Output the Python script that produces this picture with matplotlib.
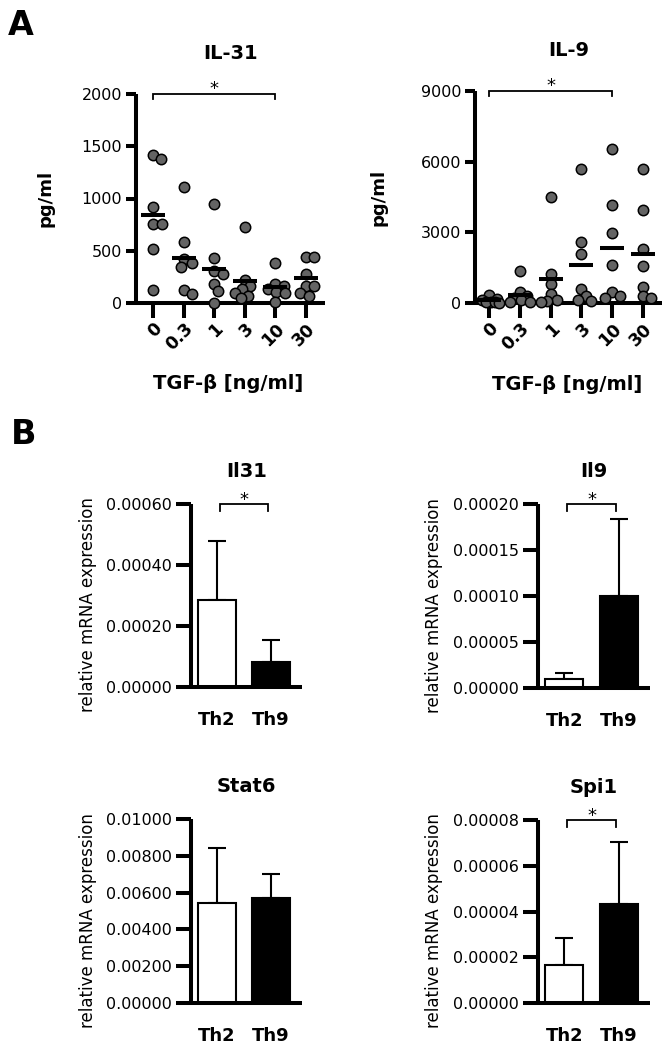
import matplotlib

matplotlib.use("Agg")
import matplotlib.pyplot as plt
import numpy as np
from matplotlib.ticker import FormatStrFormatter

plt.rcParams["font.family"] = "DejaVu Sans"

# ---- panel A: cytokine secretion vs TGF-beta dose ----
tgf_doses = ["0", "0.3", "1", "3", "10", "30"]
il31_pg = [
    [1378, 1420, 915, 760, 760, 517, 128],
    [1107, 587, 420, 383, 341, 121, 83],
    [951, 431, 303, 281, 185, 112, 0],
    [727, 223, 160, 130, 96, 70, 48],
    [383, 185, 166, 134, 102, 96, 6],
    [440, 440, 281, 160, 160, 96, 70],
]
il9_pg = [
    [320, 180, 120, 60, 40, 30, 20],
    [1340, 460, 280, 200, 120, 60, 30],
    [4512, 1241, 818, 395, 141, 70, 42],
    [5682, 2580, 2073, 592, 282, 113, 70],
    [6557, 4160, 2989, 1622, 451, 282, 211],
    [5668, 3948, 2284, 1579, 677, 310, 197],
]

# ---- panel B: qPCR, mean + SD ----
cells = ["Th2", "Th9"]
il31_mrna = [0.000284, 0.0000810]
il31_sd = [0.000196, 0.000074]
il9_mrna = [0.0000101, 0.0000995]
il9_sd = [0.0000062, 0.0000840]
stat6_mrna = [0.00546, 0.00573]
stat6_sd = [0.00297, 0.00128]
spi1_mrna = [0.0000165, 0.0000431]
spi1_sd = [0.0000117, 0.0000271]

GREY = "#646464"
SPW = 2.9  # spine / tick width (pt)

W, H = 670, 1050
fig = plt.figure(figsize=(W / 100, H / 100), dpi=100)


def rect(x0, x1, ytop, ybot):
    return [x0 / W, 1 - ybot / H, (x1 - x0) / W, (ybot - ytop) / H]


def style_axes(ax):
    for s in ("top", "right"):
        ax.spines[s].set_visible(False)
    for s in ("left", "bottom"):
        ax.spines[s].set_linewidth(SPW)
        ax.spines[s].set_capstyle("butt")


def swarm_x(ax, x0, vals, diam, maxoff):
    # simple beeswarm: nearest free horizontal slot in pixel space, capped spread
    tr = ax.transData
    placed, xs = [], []
    for v in vals:
        px0, py = tr.transform((x0, v))
        best, bestgap = px0, -1e9
        for k in range(int(maxoff * 2) + 1):
            found = False
            for sgn in ((1,) if k == 0 else (1, -1)):
                cand = px0 + sgn * k * 0.5
                gap = min([((cand - qx) ** 2 + (py - qy) ** 2) ** 0.5 for qx, qy in placed]
                          or [1e9])
                if gap >= diam:
                    best, found = cand, True
                    break
                if gap > bestgap:
                    best, bestgap = cand, gap
            if found:
                break
        placed.append((best, py))
        xs.append(tr.inverted().transform((best, py))[0])
    return xs


def bracket(ax, x1, x2, y, drop_px, star_off):
    tr = ax.transData
    _, py = tr.transform((x1, y))
    ylow = tr.inverted().transform((0, py - drop_px))[1]
    ax.plot([x1, x1, x2, x2], [ylow, y, y, ylow], color="black", lw=1.3,
            clip_on=False, solid_joinstyle="miter")
    ax.annotate("*", xy=((x1 + x2) / 2, y), xytext=(0, star_off),
                textcoords="offset points", ha="center", va="baseline",
                fontsize=13, annotation_clip=False)


def dose_panel(r, data, title, ymax, yticks, xleft, title_pad, ylab_x):
    ax = fig.add_axes(r)
    style_axes(ax)
    x = np.arange(len(tgf_doses))
    ax.set_xlim(xleft, 5.63)
    ax.set_ylim(0, ymax)
    for i, vals in enumerate(data):
        vals = sorted(vals, reverse=True)
        xs = swarm_x(ax, x[i], vals, 8.5, 10)
        ax.scatter(xs, vals, s=56, color=GREY, edgecolor="black", linewidth=1.1,
                   zorder=3, clip_on=False)
        ax.hlines(np.mean(vals), x[i] - 0.39, x[i] + 0.39, color="black",
                  lw=2.9, zorder=4)
    ax.set_xticks(x)
    ax.set_xticklabels(tgf_doses, rotation=45, ha="right", va="top",
                       rotation_mode="anchor", fontsize=12.5, fontweight="bold")
    ax.set_yticks(yticks)
    ax.tick_params(axis="x", length=11, width=SPW, pad=1)
    ax.tick_params(axis="y", length=7, width=SPW, pad=3, labelsize=11.5)
    ax.set_title(title, fontsize=14, fontweight="bold", pad=25)
    ax.set_ylabel("pg/ml", fontsize=13, fontweight="bold")
    ax.yaxis.set_label_coords(ylab_x, 0.5)
    ax.set_xlabel("TGF-\u03b2 [ng/ml]", fontsize=14, fontweight="bold")
    ax.xaxis.set_label_coords(0.49, -0.34)
    bracket(ax, 0, 4, ymax, 5, 0)
    return ax


dose_panel(rect(136, 325, 94, 303), il31_pg, "IL-31", 2000,
           [0, 500, 1000, 1500, 2000], -0.56, 26, -0.43)
dose_panel(rect(475, 662, 91, 303), il9_pg, "IL-9", 9000,
           [0, 3000, 6000, 9000], -0.46, 24, -0.47)


def bar_panel(r, means, sds, title, ymax, step, sig):
    ax = fig.add_axes(r)
    style_axes(ax)
    x = np.arange(len(cells))
    ax.set_xlim(-0.48, 1.57)
    ax.set_ylim(0, ymax)
    ax.bar(x, means, width=0.69, color=["white", "black"], edgecolor="black",
           linewidth=1.5, zorder=2)
    ax.errorbar(x, means, yerr=[[0] * len(sds), sds], fmt="none", ecolor="black",
                elinewidth=1.5, capsize=6.5, capthick=1.5, zorder=1)
    ax.set_xticks(x)
    ax.set_xticklabels(cells, fontsize=13, fontweight="bold")
    ax.set_yticks(np.arange(0, ymax + step / 2, step))
    ax.yaxis.set_major_formatter(FormatStrFormatter("%.5f"))
    ax.tick_params(axis="x", length=0, pad=17)
    ax.tick_params(axis="y", length=11, width=SPW, pad=3, labelsize=11.5)
    ax.set_title(title, fontsize=14, fontweight="bold", pad=19.5)
    ax.set_ylabel("relative mRNA expression", fontsize=12)
    ax.yaxis.set_label_coords(-0.85, 0.45)
    if sig:
        bracket(ax, 0.05, 0.95, ymax, 7, -1)
    return ax


bar_panel(rect(191, 302, 504, 687), il31_mrna, il31_sd, "Il31", 0.0006, 0.0002, True)
bar_panel(rect(538, 650, 504, 688), il9_mrna, il9_sd, "Il9", 0.0002, 0.00005, True)
bar_panel(rect(191, 302, 819, 1003), stat6_mrna, stat6_sd, "Stat6", 0.01, 0.002, False)
bar_panel(rect(538, 650, 820, 1003), spi1_mrna, spi1_sd, "Spi1", 0.00008, 0.00002, True)

fig.text(8 / W, 1 - 35 / H, "A", fontsize=24, fontweight="bold", va="baseline")
fig.text(11 / W, 1 - 444 / H, "B", fontsize=24, fontweight="bold", va="baseline")

fig.savefig("out.png", dpi=100)
